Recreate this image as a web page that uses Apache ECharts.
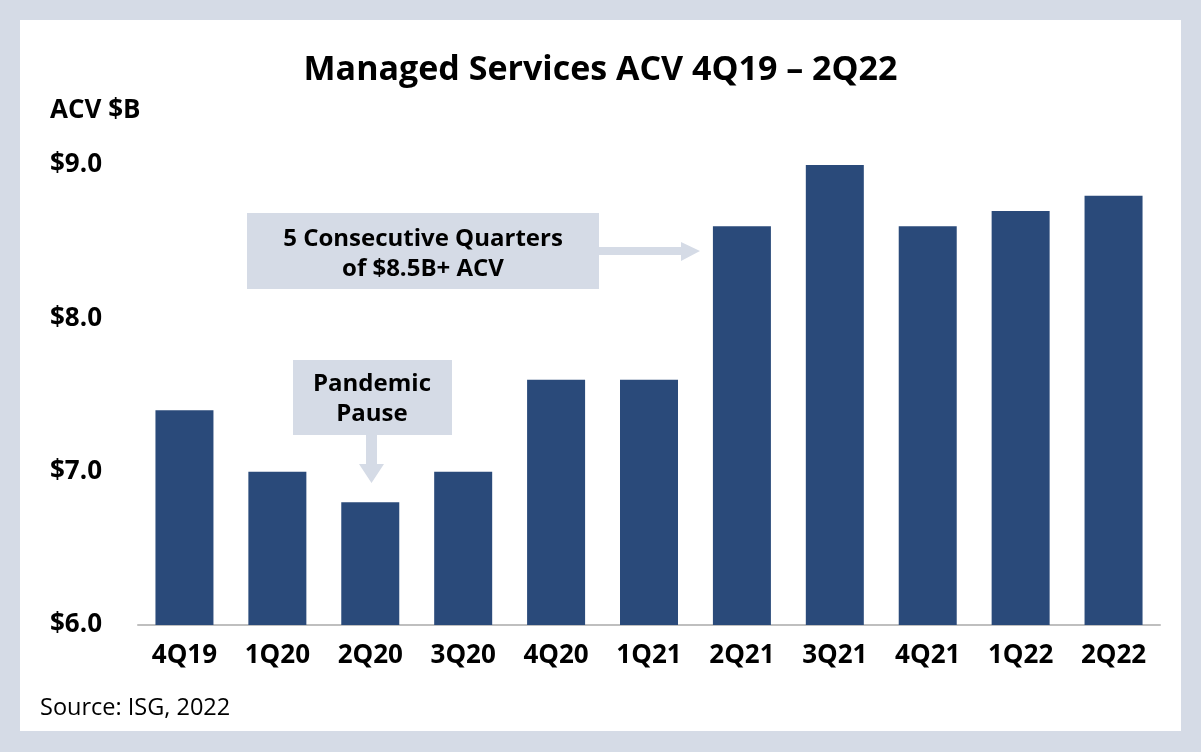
<!DOCTYPE html>
<html><head><meta charset="utf-8">
<script src="https://cdn.jsdelivr.net/npm/echarts@6/dist/echarts.min.js"></script>
<style>html,body{margin:0;padding:0;background:#d5dbe6}#c{width:1201px;height:752px}</style>
</head><body><div id="c"></div>
<script>
const categories = ['4Q19','1Q20','2Q20','3Q20','4Q20','1Q21','2Q21','3Q21','4Q21','1Q22','2Q22'];
const acvValues = [7.4, 7.0, 6.8, 7.0, 7.6, 7.6, 8.6, 9.0, 8.6, 8.7, 8.8];
const yTicks = [6, 7, 8, 9];

const F = '"Open Sans", "Noto Sans", sans-serif';
const BOX = '#d5dbe6';
const chart = echarts.init(document.getElementById('c'));
chart.setOption({
  backgroundColor: '#d5dbe6',
  animation: false,
  title: {
    text: 'Managed Services ACV 4Q19 – 2Q22',
    left: 'center', top: 48,
    textStyle: {fontFamily: F, fontWeight: 'bold', fontSize: 34, color: '#000'}
  },
  grid: {left: 138, right: 41, top: 165, bottom: 127},
  xAxis: {
    type: 'category', data: categories,
    axisLine: {lineStyle: {color: '#bfbfbf', width: 2}},
    axisTick: {show: false},
    axisLabel: {fontFamily: F, fontWeight: 'bold', fontSize: 26, color: '#000', margin: 18}
  },
  yAxis: {
    type: 'value', min: yTicks[0], max: yTicks[yTicks.length-1], interval: 1,
    splitLine: {show: false},
    axisLine: {show: false}, axisTick: {show: false},
    axisLabel: {fontFamily: F, fontWeight: 'bold', fontSize: 26, color: '#000', margin: 36,
      formatter: v => '$' + v.toFixed(1)}
  },
  series: [{
    type: 'bar', data: acvValues, barWidth: 58,
    itemStyle: {color: '#2a4a7a'}
  }],
  graphic: [
    {type: 'rect', z: -10, shape: {x: 20, y: 20, width: 1161, height: 711}, style: {fill: '#fff'}},
    {type: 'text', left: 50, top: 98, style: {text: 'ACV $B', font: 'bold 26px ' + F, fill: '#000'}},
    {type: 'text', left: 40, top: 696, style: {text: 'Source: ISG, 2022', font: '23.5px ' + F, fill: '#000'}},
    // Pandemic pause box
    {type: 'rect', shape: {x: 293, y: 360, width: 159, height: 75}, style: {fill: BOX}},
    {type: 'text', x: 372, y: 399, style: {text: 'Pandemic\nPause', font: 'bold 24px ' + F, fill: '#000', align: 'center', verticalAlign: 'middle', lineHeight: 30}},
    {type: 'polygon', shape: {points: [[366,435],[377,435],[377,464],[384,464],[371.5,483],[359,464],[366,464]]}, style: {fill: BOX}},
    // Consecutive quarters box
    {type: 'rect', shape: {x: 247, y: 213, width: 352, height: 76}, style: {fill: BOX}},
    {type: 'text', x: 423, y: 254, style: {text: '5 Consecutive Quarters\nof $8.5B+ ACV', font: 'bold 24px ' + F, fill: '#000', align: 'center', verticalAlign: 'middle', lineHeight: 30}},
    {type: 'polygon', shape: {points: [[599,247],[681,247],[681,242],[700,251],[681,261],[681,255],[599,255]]}, style: {fill: BOX}}
  ]
});
</script></body></html>
